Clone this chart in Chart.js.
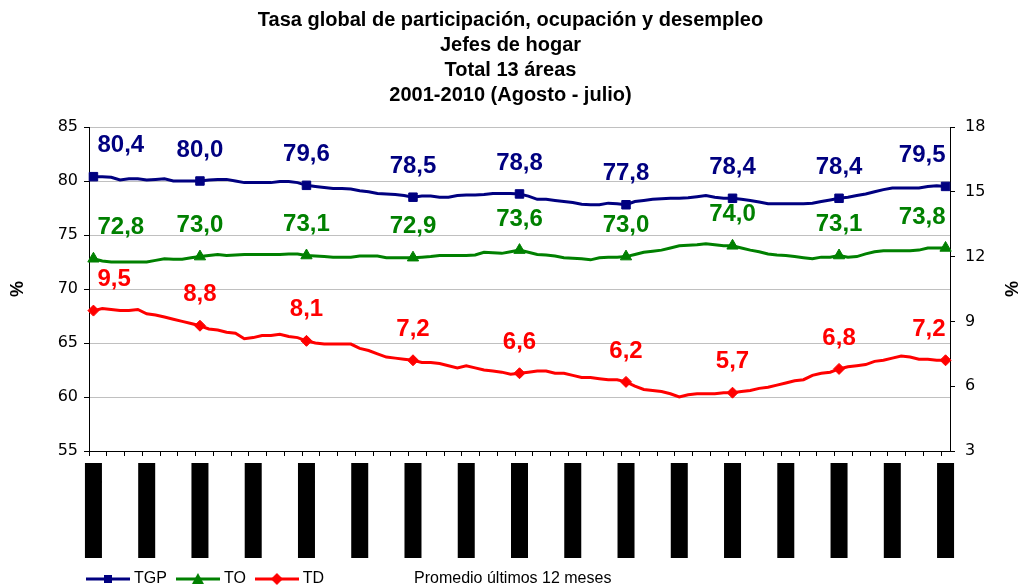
<!DOCTYPE html>
<html lang="es">
<head>
<meta charset="utf-8">
<title>Tasa global de participación, ocupación y desempleo - Jefes de hogar</title>
<script src="https://cdn.jsdelivr.net/npm/chart.js@4/dist/chart.umd.min.js"></script>
<style>
  html, body { margin: 0; padding: 0; background: #fff; }
  #caja { width: 1021px; height: 587px; }
</style>
</head>
<body>
<div id="caja"><canvas id="grafico"></canvas></div>
<script>
// Periodos móviles de 12 meses (mes final)
const periodos = [
  'jul-02', 'ago-02', 'sep-02', 'oct-02', 'nov-02', 'dic-02',
  'ene-03', 'feb-03', 'mar-03', 'abr-03', 'may-03', 'jun-03', 'jul-03', 'ago-03', 'sep-03', 'oct-03', 'nov-03', 'dic-03',
  'ene-04', 'feb-04', 'mar-04', 'abr-04', 'may-04', 'jun-04', 'jul-04', 'ago-04', 'sep-04', 'oct-04', 'nov-04', 'dic-04',
  'ene-05', 'feb-05', 'mar-05', 'abr-05', 'may-05', 'jun-05', 'jul-05', 'ago-05', 'sep-05', 'oct-05', 'nov-05', 'dic-05',
  'ene-06', 'feb-06', 'mar-06', 'abr-06', 'may-06', 'jun-06', 'jul-06', 'ago-06', 'sep-06', 'oct-06', 'nov-06', 'dic-06',
  'ene-07', 'feb-07', 'mar-07', 'abr-07', 'may-07', 'jun-07', 'jul-07', 'ago-07', 'sep-07', 'oct-07', 'nov-07', 'dic-07',
  'ene-08', 'feb-08', 'mar-08', 'abr-08', 'may-08', 'jun-08', 'jul-08', 'ago-08', 'sep-08', 'oct-08', 'nov-08', 'dic-08',
  'ene-09', 'feb-09', 'mar-09', 'abr-09', 'may-09', 'jun-09', 'jul-09', 'ago-09', 'sep-09', 'oct-09', 'nov-09', 'dic-09',
  'ene-10', 'feb-10', 'mar-10', 'abr-10', 'may-10', 'jun-10', 'jul-10'
];

// TGP - tasa global de participación (%)
const tgp = [
  80.4, 80.4, 80.35, 80.1, 80.2, 80.2, 80.1, 80.15, 80.2, 80.0, 80.0, 80.0,
  80.0, 80.1, 80.15, 80.15, 80.0, 79.85, 79.85, 79.85, 79.85, 79.95, 79.95, 79.85,
  79.6, 79.5, 79.4, 79.3, 79.3, 79.25, 79.1, 79.0, 78.85, 78.8, 78.75, 78.65,
  78.5, 78.6, 78.6, 78.5, 78.5, 78.65, 78.7, 78.7, 78.75, 78.85, 78.85, 78.85,
  78.8, 78.6, 78.3, 78.3, 78.2, 78.1, 78.0, 77.85, 77.8, 77.8, 77.95, 77.9,
  77.8, 78.1, 78.2, 78.3, 78.35, 78.4, 78.4, 78.45, 78.55, 78.65, 78.5, 78.4,
  78.4, 78.3, 78.2, 78.05, 77.9, 77.9, 77.9, 77.9, 77.9, 77.95, 78.1, 78.25,
  78.4, 78.5, 78.65, 78.8, 79.0, 79.2, 79.35, 79.35, 79.35, 79.35, 79.5, 79.55,
  79.5
];

// TO - tasa de ocupación (%)
const to = [
  72.8, 72.6, 72.5, 72.5, 72.5, 72.5, 72.5, 72.65, 72.8, 72.75, 72.75, 72.9,
  73.0, 73.1, 73.2, 73.1, 73.15, 73.2, 73.2, 73.2, 73.2, 73.2, 73.25, 73.25,
  73.1, 73.05, 73.0, 72.95, 72.95, 72.95, 73.05, 73.05, 73.05, 72.9, 72.9, 72.9,
  72.9, 72.95, 73.0, 73.1, 73.1, 73.1, 73.1, 73.15, 73.4, 73.35, 73.3, 73.45,
  73.6, 73.4, 73.2, 73.15, 73.05, 72.9, 72.85, 72.8, 72.7, 72.9, 72.95, 72.95,
  73.0, 73.2, 73.4, 73.5, 73.6, 73.8, 74.0, 74.05, 74.1, 74.2, 74.1, 74.0,
  74.0, 73.8, 73.6, 73.45, 73.25, 73.15, 73.1, 73.0, 72.9, 72.8, 72.95, 72.95,
  73.1, 72.95, 73.0, 73.25, 73.45, 73.55, 73.55, 73.55, 73.55, 73.6, 73.8, 73.8,
  73.8
];

// TD - tasa de desempleo (%), eje derecho
const td = [
  9.5, 9.6, 9.55, 9.5, 9.5, 9.55, 9.35, 9.3, 9.2, 9.1, 9.0, 8.9,
  8.8, 8.65, 8.6, 8.5, 8.45, 8.2, 8.25, 8.35, 8.35, 8.4, 8.3, 8.25,
  8.1, 8.0, 7.95, 7.95, 7.95, 7.95, 7.75, 7.65, 7.5, 7.35, 7.3, 7.25,
  7.2, 7.1, 7.1, 7.05, 6.95, 6.85, 6.95, 6.85, 6.75, 6.7, 6.65, 6.55,
  6.6, 6.65, 6.7, 6.7, 6.6, 6.6, 6.5, 6.4, 6.4, 6.35, 6.3, 6.3,
  6.2, 6.0, 5.85, 5.8, 5.75, 5.65, 5.5, 5.6, 5.65, 5.65, 5.65, 5.7,
  5.7, 5.75, 5.8, 5.9, 5.95, 6.05, 6.15, 6.25, 6.3, 6.5, 6.6, 6.65,
  6.8, 6.9, 6.95, 7.0, 7.15, 7.2, 7.3, 7.4, 7.35, 7.25, 7.25, 7.2,
  7.2
];

const titulo = [
  'Tasa global de participación, ocupación y desempleo',
  'Jefes de hogar',
  'Total 13 áreas',
  '2001-2010 (Agosto - julio)'
];
const nota = 'Promedio últimos 12 meses';

const AZUL = '#000080';
const VERDE = '#008000';
const ROJO = '#ff0000';
const ARIAL = '"Liberation Sans", Arial, sans-serif';
const cadaAnio = 12;   // marcador y etiqueta una vez por año
const cadaSemestre = 6; // rótulo del eje x cada seis meses

// muestra de la leyenda: línea con su marcador al centro
function muestra(color, forma) {
  const c = document.createElement('canvas');
  c.width = 44; c.height = 14;
  const g = c.getContext('2d');
  g.strokeStyle = color; g.fillStyle = color; g.lineWidth = 3;
  g.beginPath(); g.moveTo(0, 7); g.lineTo(44, 7); g.stroke();
  g.beginPath();
  if (forma === 'rect') {
    g.rect(18, 3, 8, 8);
  } else if (forma === 'triangle') {
    g.moveTo(22, 1); g.lineTo(28, 12); g.lineTo(16, 12); g.closePath();
  } else {
    g.moveTo(22, 1); g.lineTo(28, 7); g.lineTo(22, 13); g.lineTo(16, 7); g.closePath();
  }
  g.fill();
  return c;
}

// valores sobre los marcadores anuales
const etiquetasValor = {
  id: 'etiquetasValor',
  afterDatasetsDraw(chart) {
    const ctx = chart.ctx;
    ctx.save();
    ctx.font = 'bold 24px ' + ARIAL;
    ctx.textBaseline = 'middle';
    chart.data.datasets.forEach((ds, d) => {
      const puntos = chart.getDatasetMeta(d).data;
      puntos.forEach((p, i) => {
        if (i % cadaAnio) return;
        let x = p.x;
        ctx.textAlign = 'center';
        if (i === 0) { ctx.textAlign = 'left'; x += 4; }
        if (i === puntos.length - 1) { ctx.textAlign = 'right'; }
        ctx.fillStyle = ds.borderColor;
        ctx.fillText(ds.data[i].toFixed(1).replace('.', ','), x, p.y - 31);
      });
    });
    ctx.restore();
  }
};

// leyenda un poco a la izquierda del área de trazado, y la nota a su lado
const leyendaNota = {
  id: 'leyendaNota',
  afterLayout(chart) {
    chart.legend.left = chart.chartArea.left - 12;
  },
  afterDraw(chart) {
    const ctx = chart.ctx;
    ctx.save();
    ctx.font = '16px ' + ARIAL;
    ctx.fillStyle = '#000';
    ctx.textBaseline = 'middle';
    ctx.fillText(nota, 414, 579);
    ctx.restore();
  }
};

const formas = ['rect', 'triangle', 'rectRot'];

new Chart(document.getElementById('grafico'), {
  type: 'line',
  data: {
    labels: periodos,
    datasets: [
      { label: 'TGP', data: tgp, yAxisID: 'y', borderColor: AZUL, backgroundColor: AZUL, pointStyle: 'rect',
        pointRadius: c => c.dataIndex % cadaAnio ? 0 : 6 },
      { label: 'TO', data: to, yAxisID: 'y', borderColor: VERDE, backgroundColor: VERDE, pointStyle: 'triangle',
        pointRadius: c => c.dataIndex % cadaAnio ? 0 : 6.5 },
      { label: 'TD', data: td, yAxisID: 'y2', borderColor: ROJO, backgroundColor: ROJO, pointStyle: 'rectRot',
        pointRadius: c => c.dataIndex % cadaAnio ? 0 : 5.5 }
    ]
  },
  options: {
    responsive: true,
    maintainAspectRatio: false,
    animation: false,
    events: [],
    layout: { padding: { top: 0, left: 0, right: 0, bottom: -10 } },
    elements: {
      line: { borderWidth: 3, tension: 0 },
      point: { borderWidth: 1, hoverRadius: 0 }
    },
    plugins: {
      title: {
        display: true,
        text: titulo,
        color: '#000',
        font: { family: ARIAL, size: 20, weight: 'bold', lineHeight: '25px' },
        padding: { top: 8, bottom: 19 }
      },
      legend: {
        position: 'bottom',
        align: 'start',
        fullSize: false,
        labels: {
          usePointStyle: true,
          pointStyleWidth: 36,
          boxHeight: 16,
          padding: 13,
          color: '#000',
          font: { family: ARIAL, size: 16, lineHeight: 1 },
          generateLabels: chart => chart.data.datasets.map((ds, i) => ({
            text: ds.label,
            pointStyle: muestra(ds.borderColor, formas[i]),
            fillStyle: ds.borderColor,
            strokeStyle: ds.borderColor,
            fontColor: '#000',
            lineWidth: 0,
            hidden: false,
            datasetIndex: i
          }))
        }
      },
      tooltip: { enabled: false }
    },
    scales: {
      x: {
        type: 'category',
        offset: true,
        border: { display: true, color: '#000', width: 1 },
        grid: {
          offset: true,
          drawOnChartArea: false,
          drawTicks: true,
          tickLength: 5,
          color: c => c.index % 2 === 0 ? '#000' : 'rgba(0,0,0,0)',
          tickColor: c => c.index % 2 === 0 ? '#000' : 'rgba(0,0,0,0)'
        },
        ticks: {
          autoSkip: false,
          minRotation: 90,
          maxRotation: 90,
          padding: 7,
          color: '#000',
          font: { family: ARIAL, size: 8, lineHeight: 1 },
          callback: (v, i) => i % cadaSemestre === 0 ? periodos[i] : '',
          showLabelBackdrop: c => c.index % cadaSemestre === 0,
          backdropColor: '#000',
          backdropPadding: { top: 8.5, bottom: 0.5, left: 76, right: 0 }
        },
        afterFit: s => { s.height = 107; }
      },
      y: {
        position: 'left',
        min: 55,
        max: 85,
        border: { display: true, color: '#000', width: 1 },
        grid: {
          color: c => c.tick && c.tick.value === 55 ? 'rgba(0,0,0,0)' : '#c0c0c0',
          tickColor: '#000',
          tickLength: 5,
          lineWidth: 1
        },
        ticks: {
          stepSize: 5,
          padding: 6,
          color: '#000',
          font: { family: '"DejaVu Sans", sans-serif', size: 16 }
        },
        title: {
          display: true,
          text: '%',
          color: '#000',
          font: { family: ARIAL, size: 18, weight: 'bold' },
          padding: { top: 7, bottom: 0 }
        },
        afterFit: s => { s.width = 89; }
      },
      y2: {
        position: 'right',
        min: 3,
        max: 18,
        border: { display: true, color: '#000', width: 1 },
        grid: {
          drawOnChartArea: false,
          tickColor: '#000',
          tickLength: 5
        },
        ticks: {
          stepSize: 3,
          padding: 10,
          color: '#000',
          font: { family: '"DejaVu Sans", sans-serif', size: 16 }
        },
        title: {
          display: true,
          text: '%',
          color: '#000',
          font: { family: ARIAL, size: 18, weight: 'bold' },
          padding: { top: 0, bottom: 0 }
        },
        afterFit: s => { s.width = 71; }
      }
    }
  },
  plugins: [etiquetasValor, leyendaNota]
});
</script>
</body>
</html>
